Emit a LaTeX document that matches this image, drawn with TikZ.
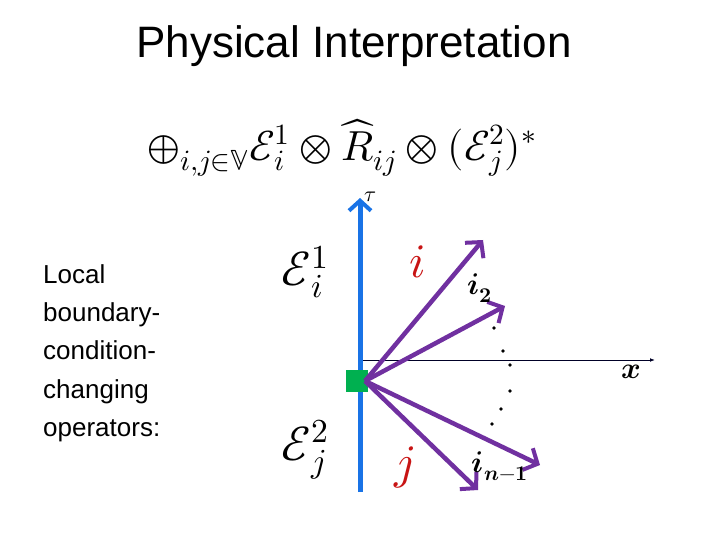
\documentclass[tikz,border=0pt]{standalone}
\usepackage{amsmath,amssymb}
\usepackage{fontspec}
\setmainfont{Liberation Sans}
\usepackage{unicode-math}
\setmathfont{Latin Modern Math}
\usetikzlibrary{arrows.meta}
\definecolor{purp}{RGB}{112,48,160}
\definecolor{bl}{RGB}{25,115,230}
\definecolor{gr}{RGB}{0,176,80}
\definecolor{rd}{RGB}{200,20,20}
\tikzset{fan/.style={purp,line width=4.5pt,-{Straight Barb[length=11pt,width=24pt,line width=4pt]}},
 dot/.style={circle,fill=black,inner sep=1.3pt},
 lbl/.style={font=\fontsize{48}{50}\selectfont}}
\begin{document}
\begin{tikzpicture}[x=1pt,y=-1pt]
\useasboundingbox (0,0) rectangle (720,540);
\node (title) at (354,46) {\fontsize{44}{48}\selectfont Physical Interpretation};
\node (formula) at (342,148) {\fontsize{42}{44}\selectfont $\oplus_{i,j\in\mathbb{V}}\mathcal{E}_i^1\otimes\widehat{R}_{ij}\otimes(\mathcal{E}_j^2)^*$};
\node[align=left,anchor=north west,font=\fontsize{26}{38.4}\selectfont,inner sep=0] (txt) at (43,264) {Local\\boundary-\\condition-\\changing\\operators:};
\node[lbl] (E1) at (305,272) {$\mathcal{E}_i^1$};
\node[lbl] (E2) at (305,450) {$\mathcal{E}_j^2$};
\coordinate (xs) at (360,360); \coordinate (xe) at (655,360);
\draw[black!85!blue,line width=1pt,-{Latex[length=5pt]}] (xs) -- (xe);
\node[font=\fontsize{30}{32}\selectfont] (xl) at (631,372) {$\mathbfit{x}$};
\coordinate (tb) at (360,492); \coordinate (tt) at (360,198);
\draw[bl,line width=5pt,-{Straight Barb[length=10pt,width=22pt,line width=4pt]}] (tb) -- (tt);
\node[font=\fontsize{22}{24}\selectfont] (tl) at (370,197) {$\tau$};
\node[fill=gr,minimum size=22pt,inner sep=0] (o) at (357,381) {};
\coordinate (a1) at (483,240); \coordinate (a2) at (505,306);
\coordinate (a3) at (540,465); \coordinate (a4) at (478,490);
\draw[fan] (o.center) ++(8,0) -- (a1);
\draw[fan] (o.center) ++(8,0) -- (a2);
\draw[fan] (o.center) ++(8,0) -- (a3);
\draw[fan] (o.center) ++(8,0) -- (a4);
\node[lbl,rd] (il) at (418,262) {$i$};
\node[lbl,rd] (jl) at (405,468) {$j$};
\node[font=\fontsize{30}{32}\selectfont] (i2) at (480,288) {$\mathbfit{i}_{\symbf{2}}$};
\node[font=\fontsize{30}{32}\selectfont] (in) at (500,466) {$\mathbfit{i}_{\mathbfit{n}\symbf{-1}}$};
\foreach \p [count=\k] in {(494,328),(503,351),(510,365),(510,391),(501,409),(492,424)} \node[dot] (d\k) at \p {};
\end{tikzpicture}
\end{document}
